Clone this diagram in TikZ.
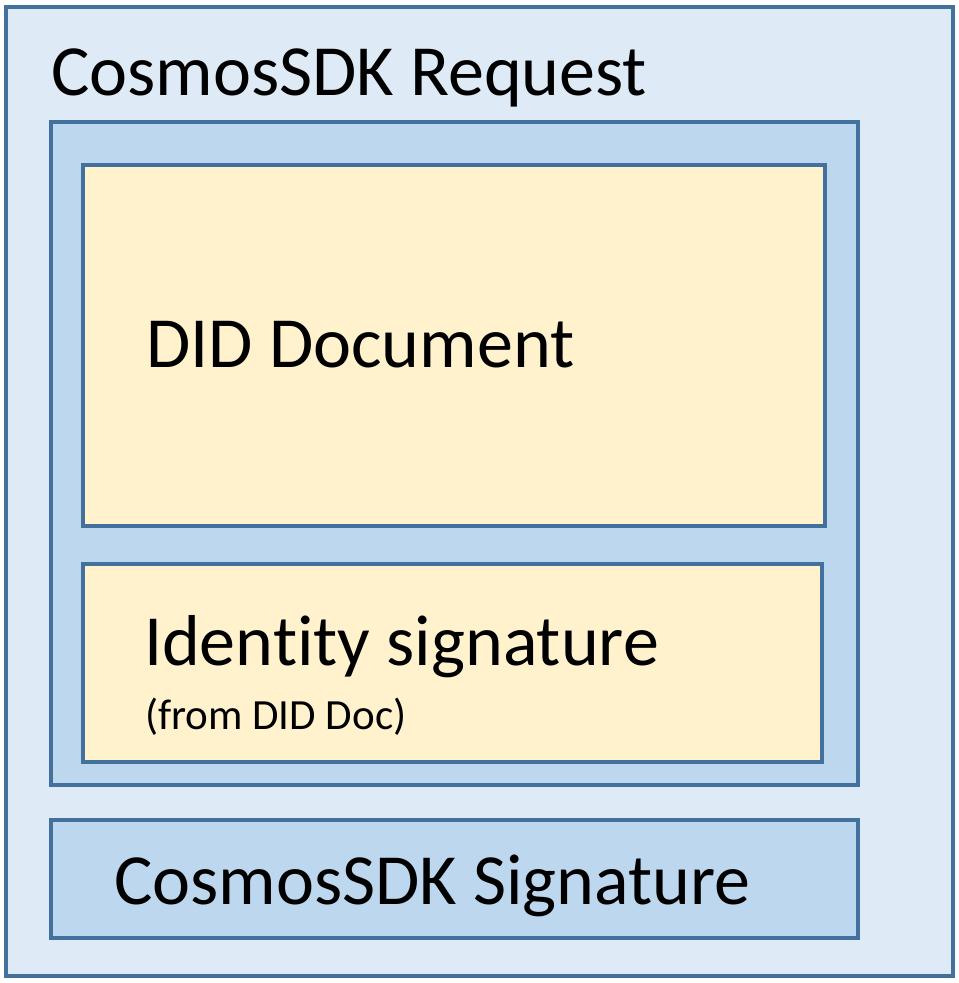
\documentclass[tikz,border=0pt]{standalone}
\usepackage{fontspec}
\setmainfont[Ligatures=NoCommon]{Carlito}
\definecolor{edgeblue}{HTML}{41719C}
\definecolor{paleblue}{HTML}{DEEBF7}
\definecolor{midblue}{HTML}{BDD7EE}
\definecolor{paleyellow}{HTML}{FFF2CC}

\begin{document}
\begin{tikzpicture}[x=0.02cm, y=-0.02cm, line width=2.3pt,
    box/.style={draw=edgeblue},
    big text/.style={anchor=base west, inner sep=0pt, font=\fontsize{41}{48}\selectfont},
    small text/.style={anchor=base west, inner sep=0pt, font=\fontsize{24.5}{29}\selectfont}]
        \useasboundingbox (0,0) rectangle (959,983);

        % boxes
        \draw[box, fill=paleblue] (6,7) rectangle (953,976);
        \draw[box, fill=midblue] (51,122) rectangle (858,785);
        \draw[box, fill=paleyellow] (83,165) rectangle (825,526);
        \draw[box, fill=paleyellow] (83,564) rectangle (822,762);
        \draw[box, fill=midblue] (51,820) rectangle (858,938);

        % labels
        \node[big text] (request) at (49,96) {CosmosSDK Request};
        \node[big text] (document) at (144,367) {DID Document};
        \node[big text] (identity) at (142,665) {Identity signature};
        \node[small text] (fromdoc) at (143,729) {(from DID Doc)};
        \node[big text] (signature) at (112,904) {CosmosSDK Signature};

    \end{tikzpicture}
\end{document}
